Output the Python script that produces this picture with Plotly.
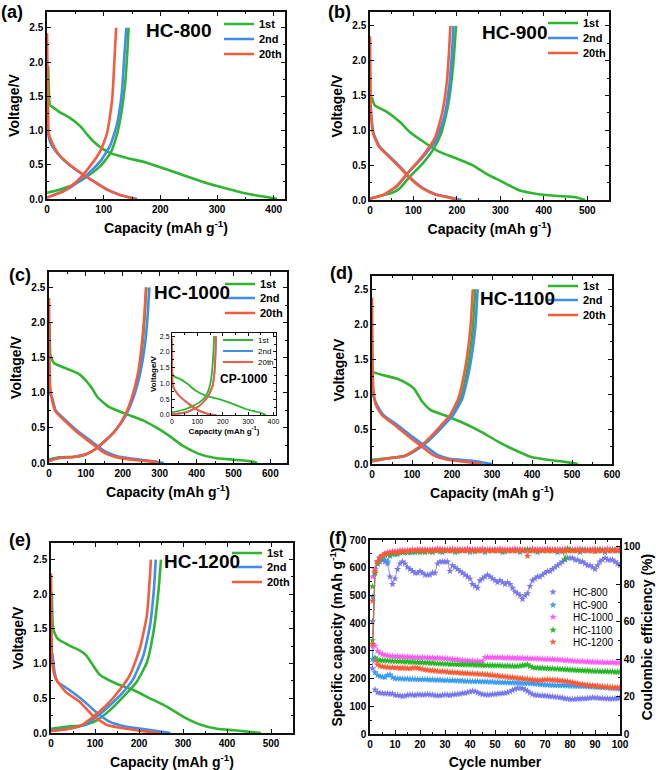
import plotly.graph_objects as go

# ---------------- data: panel (a) HC-800 ----------------
a_1st_dis_cap = [2, 4, 5, 12, 20, 41, 59, 71, 82, 97, 112, 141, 176, 212, 247, 282, 318, 341, 371, 393, 406]
a_1st_dis_v = [1.94, 1.45, 1.37, 1.33, 1.28, 1.18, 1.06, 0.94, 0.84, 0.74, 0.67, 0.60, 0.53, 0.43, 0.33, 0.23, 0.15, 0.10, 0.05, 0.02, 0.0]
a_1st_chg_cap = [0, 23, 47, 71, 94, 112, 124, 132, 138, 142, 144]
a_1st_chg_v = [0.09, 0.14, 0.21, 0.33, 0.48, 0.67, 0.96, 1.30, 1.69, 2.18, 2.5]
a_2nd_dis_cap = [1, 2, 6, 18, 35, 59, 82, 106, 129, 159]
a_2nd_dis_v = [1.0, 0.95, 0.82, 0.67, 0.53, 0.38, 0.26, 0.14, 0.06, 0.0]
a_2nd_chg_cap = [0, 35, 65, 94, 112, 124, 132, 136, 140]
a_2nd_chg_v = [0.02, 0.14, 0.31, 0.55, 0.79, 1.11, 1.55, 2.03, 2.5]
a_20th_dis_cap = [0, 1, 2, 3, 9, 20, 37, 60, 82, 105, 128, 156]
a_20th_dis_v = [2.42, 1.8, 1.2, 0.96, 0.82, 0.66, 0.52, 0.38, 0.26, 0.14, 0.06, 0.0]
a_20th_chg_cap = [0, 29, 53, 76, 94, 106, 115, 119, 122]
a_20th_chg_v = [0.02, 0.11, 0.26, 0.48, 0.70, 0.96, 1.45, 2.03, 2.5]

# ---------------- data: panel (b) HC-900 ----------------
b_1st_dis_cap = [4, 11, 38, 69, 91, 122, 160, 198, 236, 267, 305, 343, 381, 427, 473, 495]
b_1st_dis_v = [1.48, 1.36, 1.27, 1.12, 0.98, 0.84, 0.69, 0.60, 0.50, 0.38, 0.26, 0.14, 0.09, 0.06, 0.04, 0.0]
b_1st_chg_cap = [0, 23, 50, 69, 91, 122, 145, 164, 179, 191, 198]
b_1st_chg_v = [0.02, 0.06, 0.10, 0.17, 0.33, 0.53, 0.72, 0.96, 1.34, 1.91, 2.5]
b_2nd_dis_cap = [1, 3, 8, 23, 46, 69, 91, 122, 152, 183, 210]
b_2nd_dis_v = [1.38, 1.2, 0.96, 0.76, 0.62, 0.48, 0.33, 0.17, 0.08, 0.04, 0.0]
b_2nd_chg_cap = [0, 30, 61, 91, 122, 152, 171, 183, 189, 192]
b_2nd_chg_v = [0.02, 0.07, 0.19, 0.41, 0.62, 0.86, 1.20, 1.67, 2.15, 2.5]
b_20th_dis_cap = [0, 1, 2, 7, 21, 44, 67, 89, 120, 150, 178, 202]
b_20th_dis_v = [2.35, 1.8, 1.3, 0.96, 0.76, 0.62, 0.48, 0.33, 0.17, 0.08, 0.04, 0.0]
b_20th_chg_cap = [0, 30, 61, 91, 122, 150, 166, 177, 182, 185]
b_20th_chg_v = [0.02, 0.07, 0.20, 0.42, 0.64, 0.90, 1.25, 1.70, 2.15, 2.5]

# ---------------- data: panel (c) HC-1000 ----------------
c_1st_dis_cap = [2, 4, 14, 45, 81, 99, 117, 131, 162, 208, 253, 289, 325, 361, 406, 451, 496, 551, 564]
c_1st_dis_v = [2.0, 1.53, 1.42, 1.35, 1.27, 1.18, 1.06, 0.94, 0.80, 0.70, 0.61, 0.51, 0.39, 0.25, 0.13, 0.07, 0.05, 0.02, 0.0]
c_1st_chg_cap = [0, 27, 72, 99, 126, 153, 181, 208, 226, 244, 255, 260, 264]
c_1st_chg_v = [0.05, 0.08, 0.09, 0.12, 0.20, 0.32, 0.47, 0.68, 0.92, 1.30, 1.77, 2.15, 2.5]
c_2nd_dis_cap = [1, 2, 9, 18, 45, 81, 117, 153, 190, 244, 289, 311]
c_2nd_dis_v = [1.3, 1.0, 0.92, 0.75, 0.61, 0.44, 0.30, 0.16, 0.09, 0.05, 0.02, 0.0]
c_2nd_chg_cap = [0, 27, 72, 99, 126, 153, 181, 208, 228, 248, 262, 268, 272]
c_2nd_chg_v = [0.03, 0.07, 0.09, 0.12, 0.20, 0.32, 0.47, 0.68, 0.92, 1.30, 1.77, 2.15, 2.5]
c_20th_dis_cap = [0, 1, 3, 8, 17, 43, 78, 113, 148, 185, 238, 280, 300]
c_20th_dis_v = [2.35, 1.6, 1.1, 0.90, 0.74, 0.60, 0.43, 0.29, 0.15, 0.08, 0.04, 0.02, 0.0]
c_20th_chg_cap = [0, 27, 72, 99, 126, 153, 181, 206, 224, 242, 253, 259, 263]
c_20th_chg_v = [0.03, 0.07, 0.09, 0.12, 0.20, 0.32, 0.47, 0.68, 0.92, 1.30, 1.77, 2.15, 2.5]

# ---------------- data: inset CP-1000 ----------------
i_1st_dis_cap = [2, 9, 35, 62, 94, 134, 186, 239, 291, 344, 370]
i_1st_dis_v = [1.30, 1.22, 1.13, 0.98, 0.77, 0.61, 0.50, 0.35, 0.19, 0.08, 0.0]
i_1st_chg_cap = [0, 55, 108, 134, 150, 158, 163, 166]
i_1st_chg_v = [0.08, 0.19, 0.40, 0.61, 0.95, 1.40, 1.95, 2.5]
i_2nd_dis_cap = [2, 4, 10, 29, 68, 108, 147, 175]
i_2nd_dis_v = [1.0, 0.88, 0.80, 0.61, 0.35, 0.14, 0.03, 0.0]
i_2nd_chg_cap = [0, 55, 108, 140, 160, 168, 172, 174]
i_2nd_chg_v = [0.02, 0.08, 0.29, 0.56, 0.92, 1.40, 1.95, 2.5]
i_20th_dis_cap = [0, 1, 3, 9, 28, 66, 105, 145, 172]
i_20th_dis_v = [2.45, 1.6, 1.0, 0.82, 0.61, 0.35, 0.14, 0.03, 0.0]
i_20th_chg_cap = [0, 55, 108, 140, 160, 168, 171, 173]
i_20th_chg_v = [0.02, 0.08, 0.29, 0.56, 0.92, 1.40, 1.95, 2.5]

# ---------------- data: panel (d) HC-1100 ----------------
d_1st_dis_cap = [2, 4, 29, 63, 88, 105, 126, 147, 189, 231, 273, 315, 357, 398, 440, 482, 515]
d_1st_dis_v = [1.32, 1.31, 1.27, 1.22, 1.15, 1.08, 0.89, 0.77, 0.68, 0.58, 0.46, 0.32, 0.20, 0.10, 0.06, 0.03, 0.0]
d_1st_chg_cap = [0, 38, 80, 105, 138, 172, 201, 222, 239, 252, 258]
d_1st_chg_v = [0.06, 0.08, 0.11, 0.18, 0.32, 0.51, 0.70, 0.94, 1.37, 1.94, 2.5]
d_2nd_dis_cap = [1, 3, 13, 29, 63, 96, 130, 164, 197, 247, 300]
d_2nd_dis_v = [1.05, 0.98, 0.84, 0.70, 0.56, 0.41, 0.27, 0.13, 0.07, 0.05, 0.0]
d_2nd_chg_cap = [0, 38, 80, 105, 138, 172, 203, 226, 244, 258, 264]
d_2nd_chg_v = [0.04, 0.08, 0.11, 0.18, 0.32, 0.51, 0.70, 0.94, 1.37, 1.94, 2.5]
d_20th_dis_cap = [0, 1, 3, 10, 25, 58, 90, 122, 155, 190, 235, 275]
d_20th_dis_v = [2.38, 1.7, 1.1, 0.84, 0.70, 0.55, 0.40, 0.26, 0.12, 0.06, 0.03, 0.0]
d_20th_chg_cap = [0, 38, 78, 102, 134, 166, 195, 216, 233, 246, 252]
d_20th_chg_v = [0.04, 0.08, 0.11, 0.18, 0.32, 0.51, 0.70, 0.94, 1.37, 1.94, 2.5]

# ---------------- data: panel (e) HC-1200 ----------------
e_1st_dis_cap = [2, 5, 15, 42, 65, 80, 95, 111, 149, 187, 225, 263, 302, 340, 378, 416, 462, 477]
e_1st_dis_v = [2.03, 1.50, 1.36, 1.26, 1.19, 1.12, 0.98, 0.84, 0.71, 0.62, 0.50, 0.38, 0.23, 0.12, 0.06, 0.04, 0.01, 0.0]
e_1st_chg_cap = [0, 34, 73, 103, 134, 164, 195, 218, 233, 244, 250]
e_1st_chg_v = [0.06, 0.09, 0.11, 0.18, 0.33, 0.52, 0.74, 1.02, 1.46, 2.03, 2.5]
e_2nd_dis_cap = [3, 5, 8, 15, 42, 73, 103, 134, 172, 218, 271]
e_2nd_dis_v = [1.15, 1.05, 0.88, 0.74, 0.62, 0.47, 0.30, 0.16, 0.09, 0.05, 0.0]
e_2nd_chg_cap = [0, 34, 73, 103, 134, 164, 187, 210, 225, 234, 238]
e_2nd_chg_v = [0.03, 0.06, 0.11, 0.23, 0.40, 0.59, 0.78, 1.12, 1.55, 2.08, 2.5]
e_20th_dis_cap = [0, 1, 3, 11, 34, 65, 95, 126, 172, 218, 248]
e_20th_dis_v = [2.3, 1.6, 1.0, 0.78, 0.59, 0.45, 0.25, 0.12, 0.06, 0.02, 0.0]
e_20th_chg_cap = [0, 34, 69, 95, 126, 156, 179, 202, 218, 225, 227]
e_20th_chg_v = [0.03, 0.05, 0.11, 0.23, 0.40, 0.62, 0.83, 1.22, 1.70, 2.27, 2.5]

cycle_labels = ["1st", "2nd", "20th"]

# ---------------- data: panel (f) cycling ----------------
cycles = list(range(1, 101))
series_names = ["HC-800", "HC-900", "HC-1000", "HC-1100", "HC-1200"]

cap_hc800 = [406, 160, 150, 148, 147, 146, 146, 145, 145,
             140, 140, 138, 136, 138, 140, 142, 141, 140, 142,
             142, 141, 142, 143, 142, 141, 140, 138, 139, 140,
             142, 141, 140, 142, 143, 144, 145, 147, 148, 150,
             153, 155, 154, 150, 146, 143, 142, 141, 142, 143,
             144, 145, 146, 147, 148, 150, 153, 158, 162, 165,
             166, 164, 160, 155, 148, 143, 141, 140, 139, 138,
             138, 137, 136, 135, 134, 133, 132, 130, 128, 127,
             126, 126, 126, 127, 127, 128, 128, 129, 130, 131,
             131, 130, 129, 129, 128, 128, 127, 127, 128, 128, 130]
cap_hc900 = [495, 222, 212, 208, 206, 205, 212, 214, 204, 200,
             200, 200, 199, 199, 199, 198, 198, 198, 197, 197,
             197, 197, 196, 196, 196, 195, 195, 195, 194, 194,
             194, 193, 193, 193, 192, 192, 192, 191, 191, 191,
             190, 190, 190, 189, 189, 189, 188, 188, 188, 187,
             187, 187, 186, 186, 186, 185, 185, 185, 184, 184,
             184, 183, 183, 183, 182, 181, 180, 179, 178, 178,
             177, 177, 176, 176, 176, 175, 175, 175, 174, 174,
             174, 173, 173, 173, 172, 172, 171, 171, 170, 170,
             169, 169, 168, 168, 167, 166, 165, 165, 164, 163]
cap_hc1000 = [568, 318, 300, 292, 288, 285, 283, 282, 281, 280,
              280, 279, 279, 278, 278, 278, 277, 277, 277, 276,
              276, 276, 275, 275, 275, 274, 274, 274, 273, 273,
              272, 271, 270, 269, 268, 267, 266, 265, 265, 264,
              264, 263, 263, 262, 262, 277, 277, 276, 276, 276,
              276, 276, 275, 275, 275, 275, 274, 274, 274, 274,
              274, 273, 273, 273, 272, 272, 272, 271, 271, 270,
              270, 270, 269, 269, 268, 268, 267, 266, 266, 265,
              264, 263, 263, 262, 262, 261, 261, 260, 260, 260,
              259, 259, 259, 258, 258, 258, 258, 257, 257, 257]
cap_hc1100 = [532, 275, 268, 266, 265, 265, 264, 264, 263, 263,
              262, 262, 261, 261, 261, 260, 260, 259, 259, 258,
              258, 257, 257, 256, 256, 255, 254, 254, 253, 253,
              253, 252, 252, 252, 251, 251, 251, 250, 250, 250,
              250, 249, 249, 249, 248, 248, 248, 248, 247, 247,
              247, 247, 246, 246, 246, 246, 245, 245, 245, 246,
              247, 249, 250, 244, 240, 239, 239, 238, 238, 237,
              237, 236, 236, 235, 235, 234, 234, 233, 232, 232,
              231, 231, 230, 230, 229, 229, 228, 228, 227, 227,
              227, 226, 226, 226, 225, 225, 225, 224, 224, 224]
cap_hc1200 = [480, 265, 250, 245, 243, 242, 241, 240, 240, 239,
              239, 238, 238, 238, 237, 237, 238, 239, 238, 236,
              234, 232, 231, 230, 229, 228, 227, 226, 226, 225,
              224, 223, 222, 222, 221, 220, 220, 219, 219, 218,
              218, 217, 217, 216, 216, 215, 214, 213, 212, 211,
              210, 209, 208, 207, 206, 205, 204, 203, 202, 201,
              200, 199, 198, 197, 196, 195, 194, 194, 195, 196,
              196, 196, 195, 195, 194, 193, 192, 191, 190, 188,
              186, 184, 182, 180, 179, 178, 177, 176, 175, 174,
              173, 172, 171, 170, 170, 169, 169, 168, 168, 168]

ce_hc800 = [35, 88, 91, 92, 93, 92, 91, 84, 80, 83,
            88, 91, 92, 91, 89, 88, 87, 86, 86, 87,
            86, 85, 85, 85, 86, 86, 91, 92, 92, 92,
            92, 87, 90, 89, 88, 87, 86, 85, 84, 83,
            80, 79, 78, 82, 83, 84, 85, 84, 83, 82,
            81, 82, 81, 80, 81, 80, 78, 76, 75, 74,
            72, 74, 75, 79, 82, 83, 84, 84, 85, 86,
            87, 87, 88, 89, 90, 91, 92, 93, 94, 94,
            94, 93, 93, 92, 92, 91, 90, 90, 89, 88,
            90, 92, 93, 94, 93, 93, 93, 92, 91, 90]
ce_hc900 = [40, 86, 92, 94, 95, 93, 92, 95, 96, 96,
            96, 97, 97, 97, 97, 97, 97, 97, 98, 97,
            98, 97, 98, 98, 97, 98, 98, 98, 97, 98,
            98, 98, 98, 97, 98, 98, 98, 98, 98, 97,
            98, 98, 98, 98, 98, 97, 98, 98, 98, 98,
            98, 98, 97, 98, 98, 98, 98, 98, 98, 97,
            98, 98, 98, 98, 98, 98, 97, 98, 98, 98,
            98, 98, 98, 98, 97, 98, 98, 98, 98, 98,
            98, 98, 98, 97, 98, 98, 98, 98, 98, 98,
            98, 98, 98, 97, 98, 98, 98, 98, 98, 98]
ce_hc1000 = [47, 88, 92, 94.5, 95.5, 96.5, 97, 97, 97.5, 97.5,
             97.5, 98, 98, 98, 98, 98, 98.5, 98, 98.5, 98.5,
             98.5, 98.5, 98, 98.5, 98.5, 98.5, 99, 98.5, 98.5, 98.5,
             98.5, 98.5, 99, 98.5, 98.5, 98.5, 98.5, 98.5, 99, 98.5,
             98.5, 98.5, 98.5, 98.5, 99, 98.5, 98.5, 98.5, 98.5, 98.5,
             98.5, 99, 98.5, 98.5, 98.5, 98.5, 98.5, 99, 98.5, 98.5,
             98.5, 98.5, 98.5, 98.5, 99, 98.5, 98.5, 98.5, 98.5, 98.5,
             99, 98.5, 98.5, 98.5, 98.5, 98.5, 98.5, 99, 98.5, 98.5,
             98.5, 98.5, 98.5, 99, 98.5, 98.5, 98.5, 98.5, 98.5, 99,
             98.5, 98.5, 98.5, 98.5, 99, 98.5, 98.5, 98.5, 99, 98.5]
ce_hc1100 = [50, 86, 91, 93.5, 95, 95.5, 96, 96, 96.5, 96.5,
             96.5, 97, 97, 97, 97, 97.5, 97.5, 97.5, 97.5, 97.5,
             97.5, 97.5, 98, 97.5, 97.5, 98, 98, 97.5, 98, 98,
             98, 98, 98, 98, 97.5, 98, 98, 98, 98, 98,
             98, 97.5, 98, 98, 98, 98, 98, 98, 98, 98,
             98, 98, 98, 97.5, 98, 98, 98, 98, 98, 98,
             98, 98, 98.5, 98, 98, 98, 98, 98, 98, 98,
             98, 98, 98, 98, 98, 98, 98, 93.5, 99, 98.5,
             98, 98, 98, 98, 98.5, 98, 98, 98, 98, 98,
             98, 98.5, 98, 98, 98, 98, 98.5, 98, 98, 98]
ce_hc1200 = [48, 87, 92, 94, 95.5, 96, 96.5, 97, 97, 97,
             97, 97.5, 97.5, 97.5, 97.5, 98, 98, 98, 98, 98,
             98, 98, 98, 98, 98, 98, 98, 98.5, 98, 98,
             98, 98, 98, 98, 98, 98, 98, 98, 98, 98,
             98, 98, 98, 98, 98, 98, 98, 98, 98, 98,
             98, 98, 98, 98, 98, 98, 98, 98, 98, 98,
             98, 98, 95, 98, 98, 98, 98, 98, 98, 98,
             98, 98, 98, 98, 98, 98, 97.5, 98, 98, 98,
             98, 98, 98, 98, 98, 98, 98, 98, 98, 97.5,
             98, 98, 98, 98, 98, 98, 98, 98, 98, 98]

# ---------------- styling ----------------
W, H = 661, 770
FONT = "Liberation Sans, Arial, sans-serif"
CYCLE_COLORS = ["#2fb52f", "#3e8ef0", "#f45c3c"]
SERIES_COLORS = ["#7878ee", "#3a9cf5", "#ff5cf8", "#26b826", "#ff5a36"]
LEG_TEXT_OFFSET = 40


def fx(p):
    return p / W


def fy(p):
    return 1 - p / H


fig = go.Figure()
legends = {}
_leg_n = [0]


def new_legend(text_x, row_y, size=11, weight="bold"):
    _leg_n[0] += 1
    name = "legend" if _leg_n[0] == 1 else f"legend{_leg_n[0]}"
    legends[name] = dict(x=fx(text_x - LEG_TEXT_OFFSET), y=fy(row_y), xanchor="left", yanchor="middle",
                         bgcolor="rgba(0,0,0,0)", borderwidth=0, itemwidth=30,
                         font=dict(family=FONT, size=size, color="black", weight=weight))
    return name


def add_panel(xa, ya, curves, legend_text_x, legend_rows, width=2.6, lsize=11, lweight="bold"):
    for (dc, dv, cc, cv), lab, col, row in zip(curves, cycle_labels, CYCLE_COLORS, legend_rows):
        leg = new_legend(legend_text_x, row, lsize, lweight)
        fig.add_trace(go.Scatter(
            x=dc + [None] + cc, y=dv + [None] + cv, mode="lines", name=lab,
            line=dict(color=col, width=width, shape="spline", smoothing=0.5),
            xaxis=xa, yaxis=ya, legend=leg, showlegend=True, connectgaps=False))


add_panel("x", "y", [(a_1st_dis_cap, a_1st_dis_v, a_1st_chg_cap, a_1st_chg_v),
                     (a_2nd_dis_cap, a_2nd_dis_v, a_2nd_chg_cap, a_2nd_chg_v),
                     (a_20th_dis_cap, a_20th_dis_v, a_20th_chg_cap, a_20th_chg_v)],
          259, [24, 39, 54])
add_panel("x2", "y2", [(b_1st_dis_cap, b_1st_dis_v, b_1st_chg_cap, b_1st_chg_v),
                       (b_2nd_dis_cap, b_2nd_dis_v, b_2nd_chg_cap, b_2nd_chg_v),
                       (b_20th_dis_cap, b_20th_dis_v, b_20th_chg_cap, b_20th_chg_v)],
          583, [23, 38, 53])
add_panel("x3", "y3", [(c_1st_dis_cap, c_1st_dis_v, c_1st_chg_cap, c_1st_chg_v),
                       (c_2nd_dis_cap, c_2nd_dis_v, c_2nd_chg_cap, c_2nd_chg_v),
                       (c_20th_dis_cap, c_20th_dis_v, c_20th_chg_cap, c_20th_chg_v)],
          260, [284, 298, 313])
add_panel("x4", "y4", [(i_1st_dis_cap, i_1st_dis_v, i_1st_chg_cap, i_1st_chg_v),
                       (i_2nd_dis_cap, i_2nd_dis_v, i_2nd_chg_cap, i_2nd_chg_v),
                       (i_20th_dis_cap, i_20th_dis_v, i_20th_chg_cap, i_20th_chg_v)],
          258, [340, 351, 362], width=1.8, lsize=8, lweight="normal")
add_panel("x5", "y5", [(d_1st_dis_cap, d_1st_dis_v, d_1st_chg_cap, d_1st_chg_v),
                       (d_2nd_dis_cap, d_2nd_dis_v, d_2nd_chg_cap, d_2nd_chg_v),
                       (d_20th_dis_cap, d_20th_dis_v, d_20th_chg_cap, d_20th_chg_v)],
          583, [286, 300, 315])
add_panel("x6", "y6", [(e_1st_dis_cap, e_1st_dis_v, e_1st_chg_cap, e_1st_chg_v),
                       (e_2nd_dis_cap, e_2nd_dis_v, e_2nd_chg_cap, e_2nd_chg_v),
                       (e_20th_dis_cap, e_20th_dis_v, e_20th_chg_cap, e_20th_chg_v)],
          267, [553, 567, 582])

# panel (f)
caps = [cap_hc800, cap_hc900, cap_hc1000, cap_hc1100, cap_hc1200]
ces = [ce_hc800, ce_hc900, ce_hc1000, ce_hc1100, ce_hc1200]
f_rows = [592, 605, 617, 630, 642]
for name, cap, ce, col, row in zip(series_names, caps, ces, SERIES_COLORS, f_rows):
    leg = new_legend(573, row, 10, "normal")
    fig.add_trace(go.Scatter(x=cycles, y=cap, mode="markers", name=name,
                             marker=dict(symbol="star", size=5.5, color=col),
                             xaxis="x7", yaxis="y7", legend=leg, legendgroup=name))
    fig.add_trace(go.Scatter(x=cycles, y=ce, mode="lines+markers", name=name,
                             marker=dict(symbol="star", size=5.5, color=col),
                             line=dict(color=col, width=0.8),
                             xaxis="x7", yaxis="y8", showlegend=False, legend=leg, legendgroup=name))


def axis(dom_px, rng, dtick, anchor, vertical, title="", tsize=10, title_size=14,
         lw=1.5, tlen=4, minor=True, mirror="ticks", tweight="bold", standoff=6, **kw):
    if vertical:
        domain = [fy(dom_px[1]), fy(dom_px[0])]
    else:
        domain = [fx(dom_px[0]), fx(dom_px[1])]
    d = dict(domain=domain, range=rng, dtick=dtick, tick0=0, anchor=anchor,
             showline=True, linecolor="#111", linewidth=lw, mirror=mirror,
             ticks="inside", ticklen=tlen, tickwidth=1.1, tickcolor="#111",
             showgrid=False, zeroline=False, automargin=False,
             tickfont=dict(family=FONT, size=tsize, color="black", weight=tweight),
             title=dict(text=title, standoff=standoff,
                        font=dict(family=FONT, size=title_size, color="black", weight="bold")))
    if minor:
        d["minor"] = dict(ticks="inside", ticklen=tlen * 0.55, tickwidth=1, tickcolor="#111", dtick=dtick / 2)
    d.update(kw)
    return d


CAP_T = "Capacity (mAh g<sup>-1</sup>)"
V_T = "Voltage/V"
XS = 9  # standoff for the capacity titles

layout_axes = dict(
    xaxis=axis((47, 285), [0, 420], 100, "y", False, CAP_T, standoff=XS),
    yaxis=axis((12, 199), [0, 2.73], 0.5, "x", True, V_T, tickformat=".1f"),
    xaxis2=axis((370, 609), [0, 550], 100, "y2", False, CAP_T, standoff=XS),
    yaxis2=axis((12, 200), [0, 2.70], 0.5, "x2", True, V_T, tickformat=".1f"),
    xaxis3=axis((49, 287), [0, 645], 100, "y3", False, CAP_T, standoff=XS),
    yaxis3=axis((272, 463), [0, 2.72], 0.5, "x3", True, V_T, tickformat=".1f"),
    xaxis4=axis((172, 276), [0, 410], 100, "y4", False, CAP_T, tsize=7, title_size=8,
                lw=1, tlen=3, tweight="normal", standoff=2),
    yaxis4=axis((333, 415), [0, 2.6], 0.5, "x4", True, V_T, tsize=7, title_size=8,
                lw=1, tlen=3, tweight="normal", standoff=2, tickformat=".1f"),
    xaxis5=axis((372, 612), [0, 600], 100, "y5", False, CAP_T, standoff=XS),
    yaxis5=axis((276, 464), [0, 2.69], 0.5, "x5", True, V_T, tickformat=".1f"),
    xaxis6=axis((51, 293), [0, 550], 100, "y6", False, CAP_T, standoff=XS),
    yaxis6=axis((543, 733), [0, 2.74], 0.5, "x6", True, V_T, tickformat=".1f"),
    xaxis7=axis((370, 620), [0, 100], 10, "y7", False, "Cycle number", standoff=XS),
    yaxis7=axis((540, 734), [0, 700], 100, "x7", True, "Specific capacity (mAh g<sup>-1</sup>)",
                mirror=False, standoff=4),
    yaxis8=axis((540, 734), [0, 103.6], 20, "x7", True, "Coulombic efficiency (%)",
                mirror=False, side="right", overlaying="y7", standoff=2),
)

annotations = []
for txt, x, y in [("(a)", 12, 12), ("(b)", 339, 12), ("(c)", 20, 275), ("(d)", 341, 273),
                  ("(e)", 20, 540), ("(f)", 338, 538)]:
    annotations.append(dict(text=txt, x=fx(x), y=fy(y), xref="paper", yref="paper", showarrow=False,
                            xanchor="center", yanchor="middle",
                            font=dict(family=FONT, size=18, color="black", weight="bold")))
for txt, x, y, s in [("HC-800", 178, 31, 19), ("HC-900", 514, 32, 19), ("HC-1000", 192, 292, 19),
                     ("HC-1100", 517, 298, 19), ("HC-1200", 202, 561, 19), ("CP-1000", 244, 379, 12)]:
    annotations.append(dict(text=txt, x=fx(x), y=fy(y), xref="paper", yref="paper", showarrow=False,
                            xanchor="center", yanchor="middle",
                            font=dict(family=FONT, size=s, color="black", weight="bold")))

fig.update_layout(
    width=W, height=H, margin=dict(l=0, r=0, t=0, b=0, autoexpand=False),
    paper_bgcolor="white", plot_bgcolor="white",
    annotations=annotations, **layout_axes, **legends,
)

fig.write_html(
    "out.html",
    config={"displayModeBar": False},
    post_script="document.body.style.margin='0';document.body.style.padding='0';"
                "document.documentElement.style.overflow='hidden';",
)
